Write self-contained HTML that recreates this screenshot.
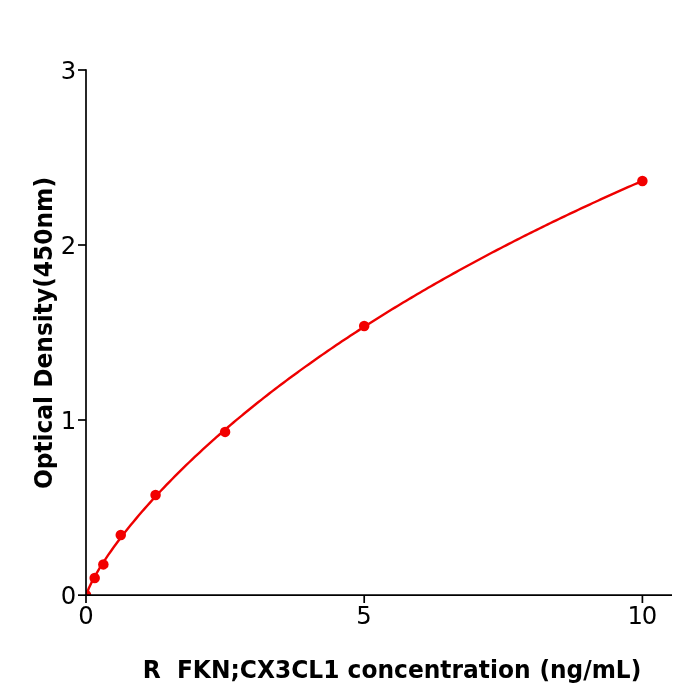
<!DOCTYPE html>
<html><head><meta charset="utf-8"><title>Standard curve</title>
<style>
html,body{margin:0;padding:0;background:#fff;}
svg{display:block;}
.t{font-family:"DejaVu Sans","Liberation Sans",sans-serif;font-size:24.3px;fill:#000;}
.b{font-family:"DejaVu Sans","Liberation Sans",sans-serif;font-weight:bold;font-size:24.1px;fill:#000;}
</style></head><body>
<svg width="700" height="700" viewBox="0 0 700 700">
<rect width="700" height="700" fill="#fff"/>
<defs><clipPath id="c"><rect x="86" y="70" width="586" height="525"/></clipPath></defs>
<g clip-path="url(#c)">
<polyline points="86.00,595.93 88.78,588.23 91.56,582.43 94.35,577.22 97.13,572.35 99.91,567.74 102.69,563.32 105.47,559.07 108.26,554.95 111.04,550.95 113.82,547.05 116.60,543.24 119.38,539.52 122.17,535.88 124.95,532.30 127.73,528.79 130.51,525.34 133.29,521.95 136.08,518.61 138.86,515.32 141.64,512.08 144.42,508.88 147.20,505.72 149.99,502.61 152.77,499.53 155.55,496.50 158.33,493.49 161.11,490.53 163.90,487.59 166.68,484.69 169.46,481.82 172.24,478.98 175.02,476.16 177.81,473.38 180.59,470.62 183.37,467.89 186.15,465.18 188.93,462.50 191.72,459.84 194.50,457.21 197.28,454.60 200.06,452.01 202.84,449.45 205.63,446.90 208.41,444.38 211.19,441.87 213.97,439.39 216.75,436.92 219.54,434.48 222.32,432.05 225.10,429.64 227.88,427.25 230.66,424.88 233.45,422.52 236.23,420.18 239.01,417.86 241.79,415.55 244.57,413.26 247.36,410.98 250.14,408.72 252.92,406.48 255.70,404.25 258.48,402.03 261.27,399.83 264.05,397.64 266.83,395.47 269.61,393.31 272.39,391.16 275.18,389.03 277.96,386.91 280.74,384.80 283.52,382.71 286.30,380.63 289.09,378.56 291.87,376.50 294.65,374.46 297.43,372.42 300.21,370.40 303.00,368.39 305.78,366.39 308.56,364.40 311.34,362.43 314.12,360.46 316.91,358.50 319.69,356.56 322.47,354.63 325.25,352.70 328.03,350.79 330.82,348.88 333.60,346.99 336.38,345.11 339.16,343.23 341.94,341.37 344.73,339.51 347.51,337.67 350.29,335.83 353.07,334.01 355.85,332.19 358.64,330.38 361.42,328.58 364.20,326.79 366.98,325.01 369.76,323.23 372.55,321.47 375.33,319.71 378.11,317.96 380.89,316.22 383.67,314.49 386.46,312.76 389.24,311.05 392.02,309.34 394.80,307.64 397.58,305.95 400.37,304.26 403.15,302.59 405.93,300.92 408.71,299.25 411.49,297.60 414.28,295.95 417.06,294.31 419.84,292.68 422.62,291.05 425.40,289.44 428.19,287.82 430.97,286.22 433.75,284.62 436.53,283.03 439.31,281.45 442.10,279.87 444.88,278.30 447.66,276.73 450.44,275.18 453.22,273.62 456.01,272.08 458.79,270.54 461.57,269.01 464.35,267.48 467.13,265.96 469.92,264.45 472.70,262.94 475.48,261.44 478.26,259.95 481.04,258.46 483.83,256.97 486.61,255.49 489.39,254.02 492.17,252.56 494.95,251.10 497.74,249.64 500.52,248.19 503.30,246.75 506.08,245.31 508.86,243.88 511.65,242.45 514.43,241.03 517.21,239.61 519.99,238.20 522.77,236.80 525.56,235.40 528.34,234.00 531.12,232.61 533.90,231.23 536.68,229.85 539.47,228.47 542.25,227.10 545.03,225.74 547.81,224.38 550.59,223.02 553.38,221.67 556.16,220.33 558.94,218.99 561.72,217.65 564.50,216.32 567.29,215.00 570.07,213.68 572.85,212.36 575.63,211.05 578.41,209.74 581.20,208.44 583.98,207.14 586.76,205.85 589.54,204.56 592.32,203.27 595.11,201.99 597.89,200.72 600.67,199.44 603.45,198.18 606.23,196.91 609.02,195.66 611.80,194.40 614.58,193.15 617.36,191.90 620.14,190.66 622.93,189.42 625.71,188.19 628.49,186.96 631.27,185.74 634.05,184.51 636.84,183.30 639.62,182.08 642.40,180.87" fill="none" stroke="#ee0000" stroke-width="2.4" stroke-linejoin="round" stroke-linecap="round"/>
<g fill="#f20000">
<circle cx="86.00" cy="595.00" r="5.25"/>
<circle cx="94.68" cy="578.02" r="5.25"/>
<circle cx="103.36" cy="564.38" r="5.25"/>
<circle cx="120.78" cy="534.98" r="5.25"/>
<circle cx="155.55" cy="495.07" r="5.25"/>
<circle cx="225.10" cy="431.90" r="5.25"/>
<circle cx="364.20" cy="326.03" r="5.25"/>
<circle cx="642.40" cy="180.95" r="5.25"/>
</g>
</g>
<g stroke="#000" stroke-width="1.7" fill="none">
<line x1="86" y1="69.2" x2="86" y2="595.8"/>
<line x1="85.2" y1="595.15" x2="672" y2="595.15"/>
<line x1="86" y1="595" x2="86" y2="603"/>
<line x1="364.2" y1="595" x2="364.2" y2="603"/>
<line x1="642.4" y1="595" x2="642.4" y2="603"/>
<line x1="78" y1="595.15" x2="86" y2="595.15"/>
<line x1="78" y1="420" x2="86" y2="420"/>
<line x1="78" y1="245" x2="86" y2="245"/>
<line x1="78" y1="70" x2="86" y2="70"/>
</g>
<g class="t" text-anchor="middle">
<text x="86" y="624.1">0</text>
<text x="363.9" y="624.1">5</text>
<text text-anchor="start" x="627.4 641.7" y="624.1">10</text>
</g>
<g class="t" text-anchor="end">
<text x="76.3" y="604.2">0</text>
<text x="76.3" y="429.2">1</text>
<text x="76.3" y="254.2">2</text>
<text x="76.3" y="79.2">3</text>
</g>
<text class="b" transform="translate(142.7,677.8) scale(0.969,1)" xml:space="preserve">R  FKN;CX3CL1 concentration</text>
<text class="b" transform="translate(539.4,677.8) scale(0.9645,1)">(ng/mL)</text>
<text class="b" transform="translate(52.4,489.1) rotate(-90) scale(0.968,1)">Optical Density(450nm)</text>
</svg>
</body></html>
